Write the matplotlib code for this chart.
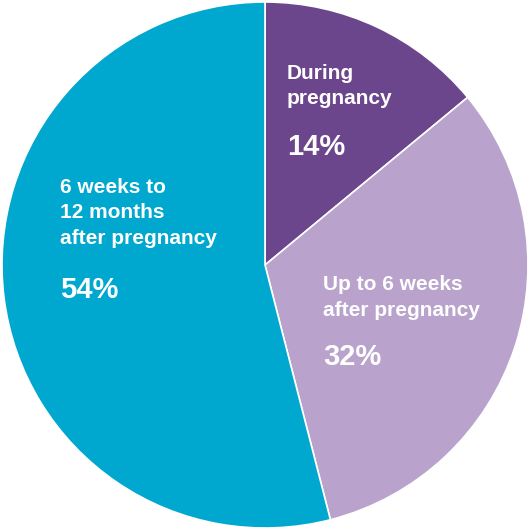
import matplotlib.pyplot as plt

# slice data (clockwise from 12 o'clock)
labels = [['During', 'pregnancy'],
          ['Up to 6 weeks', 'after pregnancy'],
          ['6 weeks to', '12 months', 'after pregnancy']]
values = [14, 32, 54]
colors = ['#6c468c', '#b9a3cc', '#00a7cf']

# label anchors in pixels of the 530x530 image: left edge, baseline of first line, baseline of percent
label_px = [(287, 79, 155), (323, 290, 365), (60, 193, 298)]
line_h = 25.5

fig = plt.figure(figsize=(5.3, 5.3), dpi=100)
ax = fig.add_axes([0, 0, 1, 1])
ax.pie(values, colors=colors, startangle=90, counterclock=False, radius=1,
       wedgeprops={'edgecolor': 'white', 'linewidth': 1.2})
ax.set_xlim(-265 / 263, 265 / 263)
ax.set_ylim(-265 / 263, 265 / 263)
ax.set_aspect('equal')
ax.axis('off')

for lines, val, (px, py, pct_y) in zip(labels, values, label_px):
    for i, line in enumerate(lines):
        fig.text(px / 530, 1 - (py + i * line_h) / 530, line, color='white', fontsize=15,
                 fontweight='bold', family='Liberation Sans', ha='left', va='baseline')
    fig.text(px / 530, 1 - pct_y / 530, f'{val}%', color='white', fontsize=21,
             fontweight='bold', family='Liberation Sans', ha='left', va='baseline')

fig.savefig('out.png', dpi=100)
